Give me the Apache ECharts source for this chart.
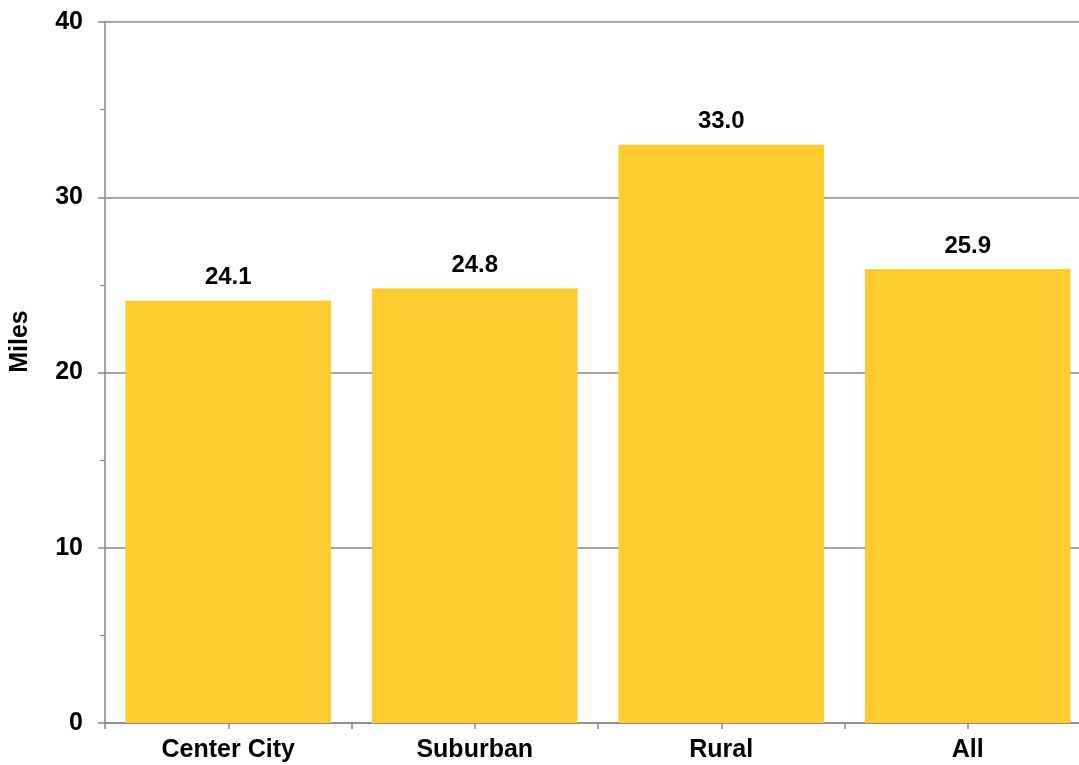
<!DOCTYPE html>
<html>
<head>
<meta charset="utf-8">
<script src="https://cdn.jsdelivr.net/npm/echarts@6/dist/echarts.min.js"></script>
<style>
html,body{margin:0;padding:0;background:#fff;overflow:hidden;}
#chart{width:1079px;height:765px;}
</style>
</head>
<body>
<div id="chart"></div>
<script>
var categories = ['Center City', 'Suburban', 'Rural', 'All'];
var milesValues = [24.1, 24.8, 33.0, 25.9];
var yAxisTitle = 'Miles';

var FONT = '"Liberation Sans", Arial, sans-serif';
var GRAY = '#878787';
var halfSlots = [];
for (var i = 0; i < categories.length * 2; i++) halfSlots.push('');

var chart = echarts.init(document.getElementById('chart'), null, {renderer: 'canvas'});
chart.setOption({
  animation: false,
  backgroundColor: '#ffffff',
  grid: {left: 105, top: 22, height: 701, width: 986, containLabel: false, outerBoundsMode: 'none'},
  xAxis: [{
    type: 'category',
    data: categories,
    boundaryGap: true,
    axisLine: {lineStyle: {color: GRAY, width: 1.5}},
    axisTick: {show: false},
    axisLabel: {color: '#000', fontFamily: FONT, fontWeight: 'bold', fontSize: 25, margin: 15}
  }, {
    type: 'category',
    data: halfSlots,
    position: 'bottom',
    boundaryGap: true,
    axisLine: {show: false},
    axisLabel: {show: false},
    axisTick: {show: true, length: 6, lineStyle: {color: GRAY, width: 1.5}},
    splitLine: {show: false}
  }],
  yAxis: {
    type: 'value',
    min: 0, max: 40, interval: 10,
    name: yAxisTitle,
    nameLocation: 'middle',
    nameGap: 72,
    nameRotate: 90,
    nameTextStyle: {color: '#000', fontFamily: FONT, fontWeight: 'bold', fontSize: 25, padding: [0, 0, 0, 62]},
    axisLine: {show: true, lineStyle: {color: GRAY, width: 1.5}},
    axisTick: {show: true, length: 7, lineStyle: {color: GRAY, width: 1.5}},
    minorTick: {show: true, splitNumber: 2, length: 5, lineStyle: {color: GRAY, width: 1.2}},
    splitLine: {show: true, lineStyle: {color: GRAY, width: 1.5}},
    axisLabel: {color: '#000', fontFamily: FONT, fontWeight: 'bold', fontSize: 25, margin: 22}
  },
  series: [{
    type: 'bar',
    xAxisIndex: 0,
    data: milesValues,
    barCategoryGap: '16.6%',
    itemStyle: {color: '#FECC2E'},
    label: {
      show: true,
      position: 'top',
      distance: 11,
      color: '#000',
      fontFamily: FONT,
      fontWeight: 'bold',
      fontSize: 24,
      formatter: function (p) { return p.value.toFixed(1); }
    }
  }]
});
</script>
</body>
</html>
